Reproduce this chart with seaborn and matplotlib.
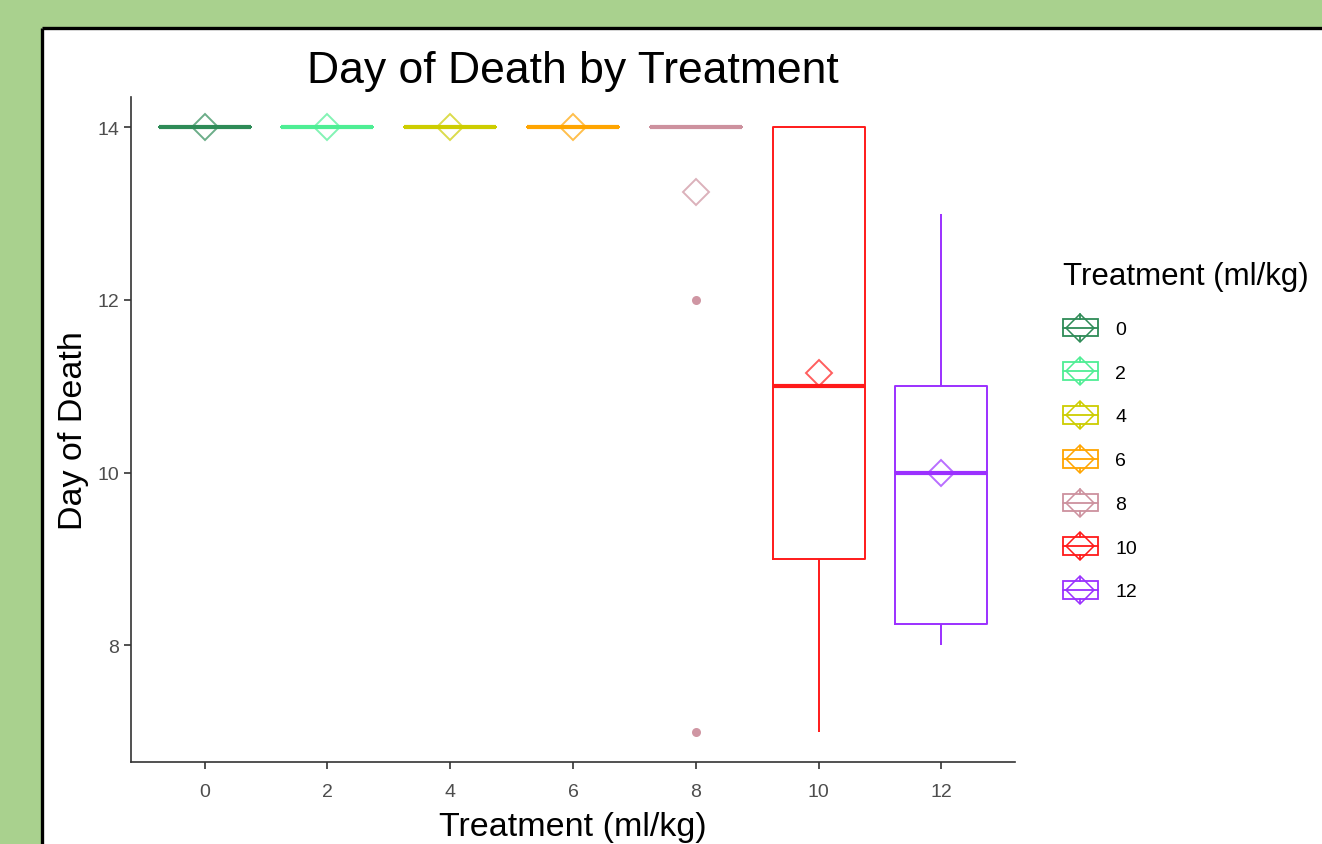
import matplotlib
matplotlib.use("Agg")
import matplotlib.pyplot as plt
from matplotlib.patches import Rectangle, Patch
from matplotlib.lines import Line2D
from matplotlib.legend_handler import HandlerBase
import pandas as pd
import seaborn as sns

# treatment groups (ml/kg) and the recorded day of death per animal
treatments = ["0", "2", "4", "6", "8", "10", "12"]
day_0 = [14, 14, 14, 14, 14, 14, 14, 14, 14, 14, 14, 14]
day_2 = [14, 14, 14, 14, 14, 14, 14, 14, 14, 14, 14, 14]
day_4 = [14, 14, 14, 14, 14, 14, 14, 14, 14, 14, 14, 14]
day_6 = [14, 14, 14, 14, 14, 14, 14, 14, 14, 14, 14, 14]
day_8 = [14, 14, 14, 14, 14, 14, 14, 14, 14, 14, 12, 7]
day_10 = [7, 7, 9, 9, 10, 11, 11, 11, 14, 14, 14, 14, 14]
day_12 = [8, 8, 9, 11, 11, 13]

colors = ["#2E8B57", "#4EEE94", "#CDCD00", "#FFA500", "#CD919E", "#FF1A1A", "#9B30FF"]

days = [day_0, day_2, day_4, day_6, day_8, day_10, day_12]
df = pd.DataFrame({
    "Treatment": [t for t, d in zip(treatments, days) for _ in d],
    "Day": [v for d in days for v in d],
})
palette = dict(zip(treatments, colors))


class BoxKeyHandler(HandlerBase):
    """ggplot-like boxplot legend key with a mean diamond"""

    def create_artists(self, legend, orig_handle, xdescent, ydescent,
                       width, height, fontsize, trans):
        c = orig_handle.get_edgecolor()
        x0, y0 = -xdescent, -ydescent
        bh = height * 0.68
        by = y0 + (height - bh) / 2
        box = Rectangle((x0, by), width, bh, facecolor="none",
                        edgecolor=c, linewidth=1.3, transform=trans)
        ym = y0 + height / 2
        xm = x0 + width / 2
        med = Line2D([x0, x0 + width], [ym, ym], color=c, lw=1.3, transform=trans)
        wt = Line2D([xm, xm], [by + bh, y0 + height], color=c, lw=1.3, transform=trans)
        wb = Line2D([xm, xm], [y0, by], color=c, lw=1.3, transform=trans)
        dia = Line2D([xm], [ym], marker="D", markersize=14, markerfacecolor="none",
                     markeredgecolor=c, markeredgewidth=1.1, linestyle="none",
                     transform=trans)
        return [box, med, wt, wb, dia]


sns.set_style("ticks")
plt.rcParams["font.family"] = ["Liberation Sans", "DejaVu Sans"]
plt.rcParams["text.color"] = "black"
plt.rcParams["axes.labelcolor"] = "black"

fig = plt.figure(figsize=(13.22, 8.45), dpi=100, facecolor="#A9D18E")

# white slide panel with black border on top and left
fig.patches.append(Rectangle((41.5 / 1322, 0), 1, 1 - 28.5 / 845, transform=fig.transFigure,
                             facecolor="white", edgecolor="none", zorder=-2))
fig.lines.append(Line2D([41.5 / 1322, 1], [1 - 28.5 / 845] * 2, transform=fig.transFigure,
                        color="black", lw=2.4, solid_capstyle="butt"))
fig.lines.append(Line2D([41.5 / 1322] * 2, [0, 1 - 28.5 / 845], transform=fig.transFigure,
                        color="black", lw=2.4, solid_capstyle="butt"))

ax = fig.add_axes([131 / 1322, 1 - 763 / 845, (1015 - 131) / 1322, (763 - 98) / 845])
ax.set_facecolor("white")

sns.boxplot(data=df, x="Treatment", y="Day", hue="Treatment", order=treatments,
            hue_order=treatments, palette=palette, fill=False, width=0.75,
            linewidth=1.4, showcaps=False, legend=False,
            medianprops={"linewidth": 3.0},
            flierprops={"marker": "o", "markersize": 6.5, "markeredgewidth": 0},
            ax=ax)

sns.pointplot(data=df, x="Treatment", y="Day", hue="Treatment", order=treatments,
              hue_order=treatments, palette=palette, estimator="mean", errorbar=None,
              markers="D", linestyles="none", markersize=13, legend=False, ax=ax)

for line in ax.lines:
    if line.get_marker() == "D":
        line.set_markerfacecolor("none")
        line.set_markeredgewidth(1.4)
        line.set_alpha(0.7)
        line.set_zorder(5)
    elif line.get_marker() == "o":
        line.set_markerfacecolor(line.get_markeredgecolor())
        line.set_markeredgecolor("none")
        line.set_alpha(0.95)

ax.set_xlim(-0.6, 6.6)
ax.set_ylim(6.65, 14.35)
ax.set_yticks([8, 10, 12, 14])
sns.despine(ax=ax)
for s in ["left", "bottom"]:
    ax.spines[s].set_color("#333333")
    ax.spines[s].set_linewidth(1.2)
ax.tick_params(axis="both", colors="#333333", labelcolor="#4D4D4D", labelsize=14,
               length=5, width=1.2)
ax.tick_params(axis="x", pad=10)

ax.set_title("Day of Death by Treatment", fontsize=32, pad=11, color="black")
ax.set_xlabel("Treatment (ml/kg)", fontsize=24.5, labelpad=8)
ax.set_ylabel("Day of Death", fontsize=24.5, labelpad=6)

handles = [Patch(edgecolor=c, facecolor="none") for c in colors]
leg = fig.legend(handles, treatments, title="Treatment (ml/kg)",
                 handler_map={Patch: BoxKeyHandler()},
                 loc="upper left", bbox_to_anchor=(1055 / 1322, 1 - 254 / 845),
                 frameon=False, fontsize=14, title_fontsize=22.5,
                 handlelength=1.8, handleheight=1.7, labelspacing=0.9,
                 handletextpad=0.9, alignment="left", borderaxespad=0)
leg._legend_box.sep = 17

fig.savefig("out.png", dpi=100, facecolor=fig.get_facecolor())
